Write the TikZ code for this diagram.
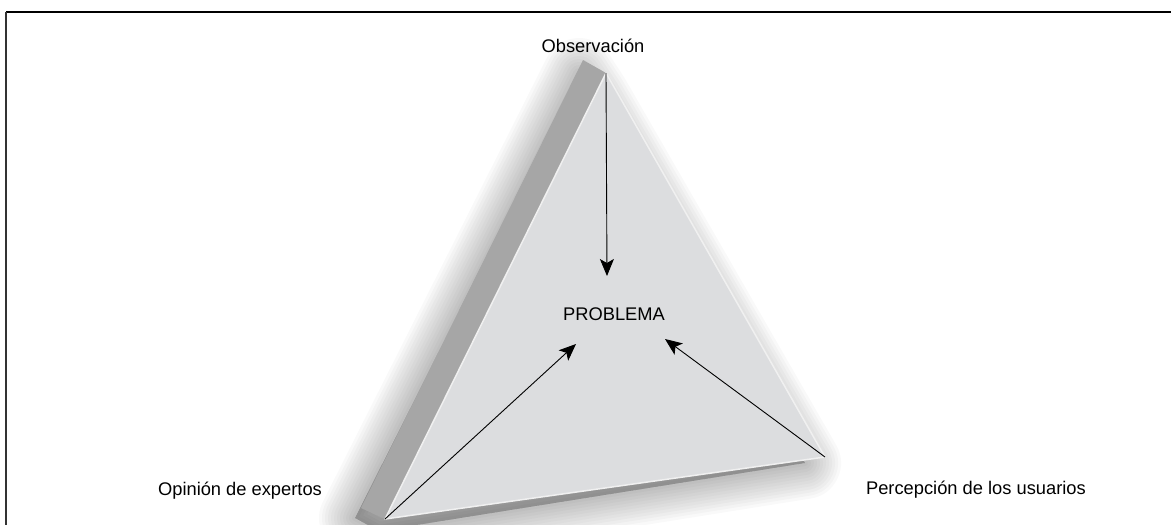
\documentclass[tikz,border=0pt]{standalone}
\usepackage{fontspec}
\setmainfont{Liberation Sans}
\usetikzlibrary{arrows.meta}
\definecolor{caraFrente}{HTML}{DCDDDF}
\definecolor{caraLado}{HTML}{A6A6A6}
\tikzset{
  etiqueta/.style={font=\fontsize{18.3}{22}\selectfont, anchor=base, inner sep=0pt},
  flecha/.style={-{Stealth[length=17pt,width=14pt,inset=4pt,fill=black]}, line width=0.9pt},
  sombra/.style={fill=black, draw=black, line join=round, opacity=0.024},
}
\begin{document}
\begin{tikzpicture}[x=1pt,y=-1pt]
  \useasboundingbox (0,0) rectangle (1171,525);
  % marco
  \draw[line width=1.4pt] (1171,12) -- (6,12);
  \draw[line width=2pt, gray!40!black] (6,12) -- (6,525);
  % vertices del triangulo
  \coordinate (arriba) at (606,73);
  \coordinate (izq) at (385,519);
  \coordinate (der) at (825,457);
  \coordinate (ladoAbajo) at (361,508);
  \coordinate (ladoArriba) at (583,60);
  % sombra difusa
  \foreach \w in {6,12,...,72}
    \filldraw[sombra, line width=\w pt] ([shift={(-6,12)}]izq) -- ([shift={(-6,10)}]ladoAbajo)
      -- ([shift={(-4,14)}]ladoArriba) -- ([shift={(-12,24)}]arriba) -- ([shift={(-20,6)}]der) -- cycle;
  % canto lateral
  \fill[caraLado] (izq) -- (ladoAbajo) -- (ladoArriba) -- (arriba) -- cycle;
  % cara frontal
  \filldraw[fill=caraFrente, draw=gray!12, line width=1.5pt, line join=round]
    (arriba) -- (izq) -- (der) -- cycle;
  % textos
  \node[etiqueta] (obs) at (593,52) {Observación};
  \node[etiqueta] (problema) at (614,320) {PROBLEMA};
  \node[etiqueta] (opinion) at (240,495) {Opinión de expertos};
  \node[etiqueta, anchor=base east] (percepcion) at (1086,494) {Percepción de los usuarios};
  % puntas de las flechas
  \coordinate (pArriba) at (607,276);
  \coordinate (pIzq) at (576,344);
  \coordinate (pDer) at (665,339);
  \draw[flecha] (arriba) -- (pArriba);
  \draw[flecha] (izq) -- (pIzq);
  \draw[flecha] (der) -- (pDer);
\end{tikzpicture}
\end{document}
